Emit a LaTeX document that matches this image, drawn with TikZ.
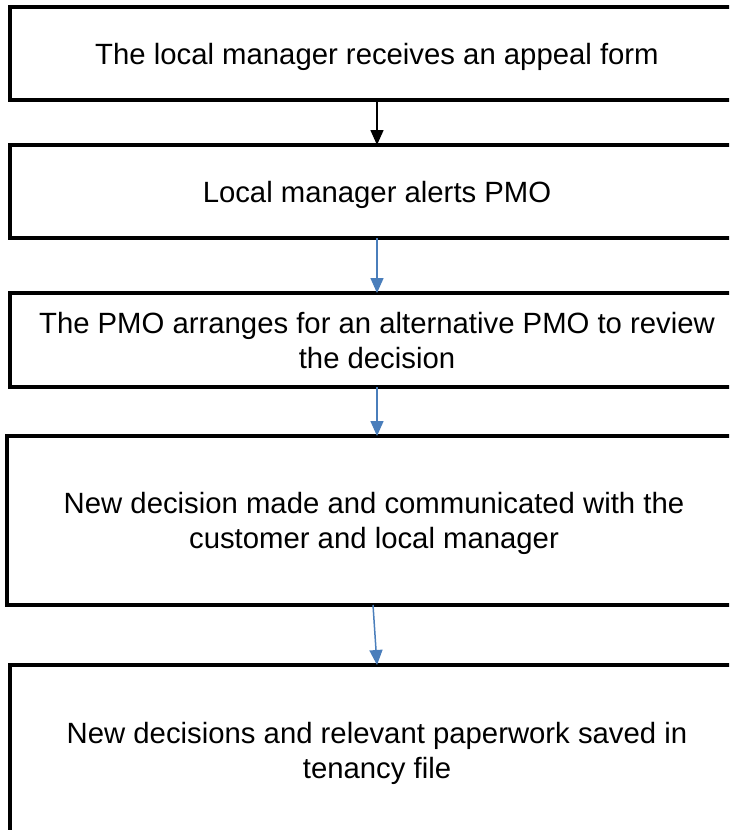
\documentclass[tikz,border=0pt]{standalone}
\usepackage{fontspec}
\setmainfont{Liberation Sans}
\usetikzlibrary{arrows.meta,positioning}
\definecolor{arrowblue}{RGB}{74,126,187}

\begin{document}
\begin{tikzpicture}[
  x=1pt, y=-1pt,
  >={Triangle[length=15pt,width=13pt]},
  stepbox/.style={rectangle, draw, line width=4pt, outer sep=0pt, align=center,
    minimum width=734pt, text depth=-2pt, font=\fontsize{29.3}{35}\selectfont},
  arrow/.style={->, line width=1.5pt},
  bluearrow/.style={arrow, draw=arrowblue}
]
\useasboundingbox (0,0) rectangle (729,830);
\clip (0,0) rectangle (729,830);
\node[stepbox, minimum height=93pt] (receive) at (377,53.5) {The local manager receives an appeal form};
\node[stepbox, minimum height=93pt] (alert) at (377,191.5) {Local manager alerts PMO};
\node[stepbox, minimum height=94pt] (arrange) at (377,340) {The PMO arranges for an alternative PMO to review\\the decision};
\node[stepbox, minimum height=169pt] (decide) at (374,520.5) {New decision made and communicated with the\\customer and local manager};
\node[stepbox, minimum height=170pt] (save) at (377,750) {New decisions and relevant paperwork saved in\\tenancy file};
\draw[arrow] (receive.south -| 377,0) -- (alert.north -| 377,0);
\draw[bluearrow] (alert.south -| 377,0) -- (arrange.north -| 377,0);
\draw[bluearrow] (arrange.south -| 377,0) -- (decide.north -| 377,0);
\draw[bluearrow] (decide.south -| 373,0) -- (save.north -| 377,0);
\end{tikzpicture}
\end{document}
